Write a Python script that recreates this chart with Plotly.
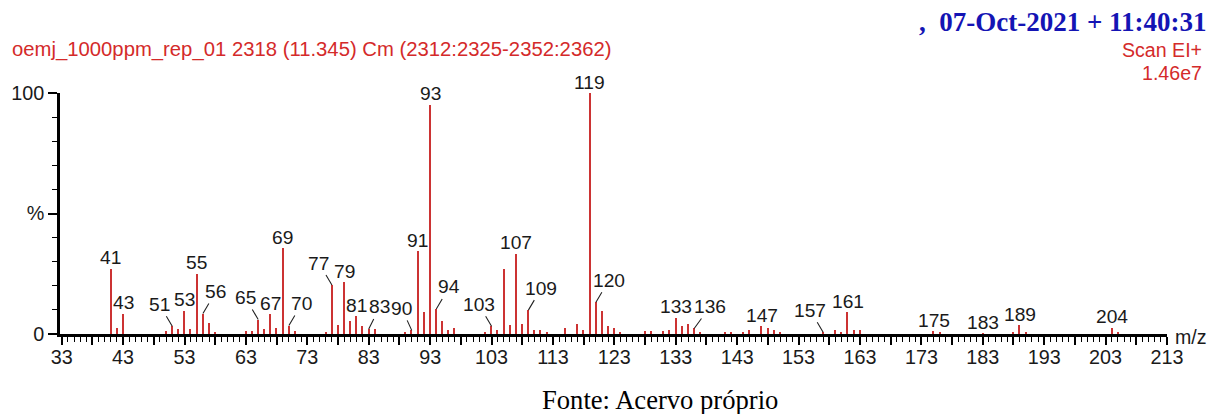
import plotly.graph_objects as go

# ---- data ----
mz = [41, 42, 43, 50, 51, 52, 53, 54, 55, 56, 57, 58, 63, 64, 65, 66, 67, 68, 69, 70, 71,
      76, 77, 78, 79, 80, 81, 82, 83, 84, 89, 90, 91, 92, 93, 94, 95, 96, 97,
      102, 103, 104, 105, 106, 107, 108, 109, 110, 111, 112, 115, 117, 118, 119, 120,
      121, 122, 123, 124, 128, 129, 131, 132, 133, 134, 135, 136, 137, 141, 142, 144,
      145, 147, 148, 149, 150, 157, 159, 160, 161, 162, 163, 175, 176, 183, 188, 189,
      190, 204, 205]
intensity = [27.1, 2.6, 8.5, 1.2, 3.2, 1.9, 9.7, 1.9, 25.0, 8.5, 4.4, 0.8, 1.3, 1.4, 6.0, 2.2,
             8.3, 2.6, 35.5, 3.5, 1.4,
             0.7, 20.3, 3.7, 21.5, 5.6, 7.3, 3.3, 2.1, 2.0, 0.7, 1.5, 34.4, 9.0, 95.2, 10.4,
             5.6, 1.5, 2.6,
             0.7, 3.2, 1.5, 26.8, 3.7, 33.3, 4.2, 9.9, 1.5, 1.5, 0.7, 2.6, 4.2, 1.5, 100.0,
             13.2, 9.7, 3.2, 2.5, 0.7, 1.2, 1.2, 1.2, 1.5, 6.7, 3.5, 4.2, 2.3, 0.7, 0.5,
             0.5, 0.7, 1.5, 3.2, 2.5, 1.5, 0.5, 0.7, 1.5, 0.7, 9.0, 1.8, 1.5, 1.2, 0.5,
             0.4, 0.5, 3.6, 0.5, 2.6, 0.5]

labels_above = [41, 43, 53, 55, 67, 69, 79, 81, 91, 93, 107, 119, 133, 147, 161, 175, 183, 189, 204]
labels_leader_left = [51, 65, 77, 90, 103, 157]
labels_leader_right = [56, 70, 83, 94, 109, 120, 136]

x_tick_values = list(range(33, 214, 10))
x_mid_ticks = list(range(38, 214, 10))
y_tick_values = [0, 50, 100]
y_tick_text = ["0", "%", "100"]

title_text = "oemj_1000ppm_rep_01 2318 (11.345) Cm (2312:2325-2352:2362)"
date_text = ",  07-Oct-2021 + 11:40:31"
scan_text = "Scan EI+"
tic_text = "1.46e7"
source_text = "Fonte: Acervo próprio"

# ---- style ----
RED = "#d42a2a"
BAR_RED = "#cc3333"
BLUE = "#1414b4"
TXT = "#1a1a1a"
SANS = "Liberation Sans, Arial, sans-serif"
SERIF = "Liberation Serif, Times New Roman, serif"

ML, MR, MT, MB = 60, 44, 93, 80
W, H = 1211, 414
PW = W - ML - MR
PH = H - MT - MB


def px2paper(px, py):
    return (px - ML) / PW, (H - MB - py) / PH


val = dict(zip(mz, intensity))

fig = go.Figure()
fig.add_trace(go.Bar(x=mz, y=intensity, width=0.24,
                     marker=dict(color=BAR_RED, line=dict(width=0)),
                     hoverinfo="x+y", showlegend=False))

# tick positions every 5 (labels only at 33, 43, ...)
all_ticks = sorted(x_tick_values + x_mid_ticks)
all_text = [str(v) if v in x_tick_values else "" for v in all_ticks]

LABEL_FONT = dict(family=SANS, size=19.2, color=TXT)
LEADER_DX = {83: 11, 90: 10, 136: 16}
annotations = []
for m in labels_above:
    annotations.append(dict(x=m, y=val[m], xref="x", yref="y", text=str(m),
                            showarrow=False, xanchor="center", yanchor="middle",
                            yshift=11, font=LABEL_FONT))
for m in labels_leader_left + labels_leader_right:
    sgn = -1 if m in labels_leader_left else 1
    dx = LEADER_DX.get(m, 13)
    annotations.append(dict(x=m, y=val[m], xref="x", yref="y", text=str(m),
                            showarrow=True, arrowhead=0, arrowwidth=1.1,
                            arrowcolor="#222", ax=sgn * dx, ay=-22, standoff=0,
                            font=LABEL_FONT))

x0, y0 = px2paper(10, 50)
annotations.append(dict(x=x0, y=y0, xref="paper", yref="paper", text=title_text,
                        showarrow=False, xanchor="left", yanchor="middle",
                        font=dict(family=SANS, size=20.3, color=RED)))
x0, y0 = px2paper(1209, 22)
annotations.append(dict(x=x0, y=y0, xref="paper", yref="paper", text="<b>" + date_text + "</b>",
                        showarrow=False, xanchor="right", yanchor="middle",
                        font=dict(family=SERIF, size=27, color=BLUE)))
x0, y0 = px2paper(1204, 50)
annotations.append(dict(x=x0, y=y0, xref="paper", yref="paper", text=scan_text,
                        showarrow=False, xanchor="right", yanchor="middle",
                        font=dict(family=SANS, size=19.6, color=RED)))
x0, y0 = px2paper(1204, 73)
annotations.append(dict(x=x0, y=y0, xref="paper", yref="paper", text=tic_text,
                        showarrow=False, xanchor="right", yanchor="middle",
                        font=dict(family=SANS, size=19.6, color=RED)))
x0, y0 = px2paper(1173, 337)
annotations.append(dict(x=x0, y=y0, xref="paper", yref="paper", text="m/z",
                        showarrow=False, xanchor="left", yanchor="middle",
                        font=dict(family=SANS, size=19.6, color=TXT)))
x0, y0 = px2paper(660, 400)
annotations.append(dict(x=x0, y=y0, xref="paper", yref="paper", text=source_text,
                        showarrow=False, xanchor="center", yanchor="middle",
                        font=dict(family=SERIF, size=26.6, color="#000")))

fig.update_layout(
    width=W, height=H,
    margin=dict(l=ML, r=MR, t=MT, b=MB),
    paper_bgcolor="white", plot_bgcolor="white",
    bargap=0,
    annotations=annotations,
    xaxis=dict(range=[32.72, 213.0], showgrid=False, zeroline=False,
               showline=True, linecolor="black", linewidth=2.5,
               tickmode="array", tickvals=all_ticks, ticktext=all_text,
               ticks="outside", ticklen=8, tickwidth=1.6, tickcolor="black",
               ticklabelstandoff=-5,
               tickfont=dict(family=SANS, size=19.8, color=TXT),
               minor=dict(dtick=1, tick0=33, ticks="outside", ticklen=5,
                          tickwidth=1.2, tickcolor="black")),
    yaxis=dict(range=[0, 100], showgrid=False, zeroline=False,
               showline=True, linecolor="black", linewidth=2.5,
               tickmode="array", tickvals=y_tick_values, ticktext=y_tick_text,
               ticks="outside", ticklen=9, tickwidth=1.6, tickcolor="black",
               tickfont=dict(family=SANS, size=19.8, color=TXT),
               minor=dict(dtick=10, tick0=0, ticks="outside", ticklen=5,
                          tickwidth=1.4, tickcolor="black")),
)

fig.write_html("out.html")
